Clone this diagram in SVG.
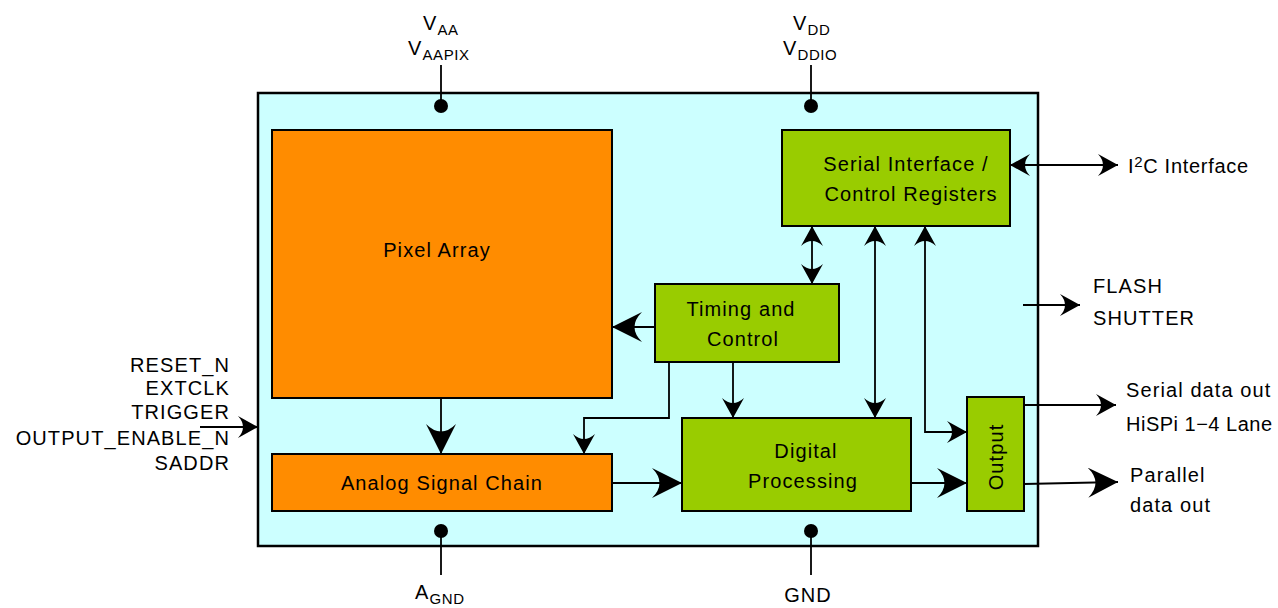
<svg xmlns="http://www.w3.org/2000/svg" width="1278" height="608" viewBox="0 0 1278 608">
<style>
text{font-family:"Liberation Sans",Arial,sans-serif;font-size:20px;fill:#000;letter-spacing:1.1px}
.c{text-anchor:middle}
.r{text-anchor:end}
.sub{font-size:15px;letter-spacing:0.6px}
.box{stroke:#000;stroke-width:2}
.org{fill:#FF8C00}
.grn{fill:#99CC00}
.ln{fill:none;stroke:#000;stroke-width:1.8}
.ml{marker-end:url(#M)}
.ms{marker-start:url(#M)}
.Ll{marker-end:url(#L)}
</style>
<defs>
<marker id="M" viewBox="0 0 20 22" refX="20" refY="11" markerWidth="20" markerHeight="22" markerUnits="userSpaceOnUse" orient="auto-start-reverse">
<path d="M20 11 L0 0 Q10 11 0 22 Z" fill="#000"/>
</marker>
<marker id="L" viewBox="0 0 30 30" refX="30" refY="15" markerWidth="30" markerHeight="30" markerUnits="userSpaceOnUse" orient="auto-start-reverse">
<path d="M30 15 L0 0 Q15 15 0 30 Z" fill="#000"/>
</marker>
</defs>

<g id="chip">
<rect x="258" y="93" width="780" height="453" fill="#CCFFFF" stroke="#000" stroke-width="2.5"/>
</g>

<g id="connectors">
<line class="ln" x1="441" y1="65" x2="441" y2="106"/>
<line class="ln" x1="811" y1="65" x2="811" y2="106"/>
<line class="ln" x1="441" y1="531" x2="441" y2="575"/>
<line class="ln" x1="811" y1="531" x2="811" y2="575"/>
<circle cx="441" cy="106" r="7"/>
<circle cx="811" cy="106" r="7"/>
<circle cx="441" cy="531" r="7"/>
<circle cx="811" cy="531" r="7"/>
<line class="ln ml ms" x1="1010" y1="165" x2="1118" y2="165"/>
<line class="ln ml ms" x1="812" y1="226" x2="812" y2="284"/>
<line class="ln ml ms" x1="875" y1="226" x2="875" y2="418"/>
<path class="ln ml ms" d="M967 432 H925 V226"/>
<line class="ln Ll" x1="655" y1="327" x2="612" y2="327"/>
<line class="ln ml" x1="733" y1="362" x2="733" y2="418"/>
<path class="ln ml" d="M669 362 V418 H584 V454"/>
<line class="ln Ll" x1="441" y1="398" x2="441" y2="454"/>
<line class="ln Ll" x1="612" y1="483" x2="682" y2="483"/>
<line class="ln Ll" x1="911" y1="483" x2="967" y2="483"/>
<line class="ln Ll" x1="1024" y1="484" x2="1118" y2="482"/>
<line class="ln ml" x1="1024" y1="405" x2="1116" y2="405"/>
<line class="ln ml" x1="1023" y1="305" x2="1080" y2="305"/>
<line class="ln ml" x1="200" y1="427" x2="258" y2="427"/>
</g>

<g id="pixel-array">
<rect class="box org" x="272" y="130" width="340" height="268"/>
<text class="c" x="437" y="257">Pixel Array</text>
</g>
<g id="analog-signal-chain">
<rect class="box org" x="272" y="454" width="340" height="57"/>
<text class="c" x="442" y="490">Analog Signal Chain</text>
</g>
<g id="serial-interface">
<rect class="box grn" x="782" y="130" width="228" height="96"/>
<text class="c" x="906" y="171">Serial Interface /</text>
<text class="c" x="911" y="201">Control Registers</text>
</g>
<g id="timing-control">
<rect class="box grn" x="655" y="284" width="184" height="78"/>
<text class="c" x="741" y="316">Timing and</text>
<text class="c" x="743" y="346">Control</text>
</g>
<g id="digital-processing">
<rect class="box grn" x="682" y="418" width="229" height="93"/>
<text class="c" x="806" y="458">Digital</text>
<text class="c" x="803" y="488">Processing</text>
</g>
<g id="output">
<rect class="box grn" x="967" y="397" width="57" height="114"/>
<text class="c" transform="translate(1003 457) rotate(-90)">Output</text>
</g>

<g id="labels">
<text x="423" y="30">V<tspan class="sub" dy="5">AA</tspan></text>
<text x="408" y="55">V<tspan class="sub" dy="5">AAPIX</tspan></text>
<text x="793" y="30">V<tspan class="sub" dy="5">DD</tspan></text>
<text x="783" y="55">V<tspan class="sub" dy="5">DDIO</tspan></text>
<text x="415" y="599">A<tspan class="sub" dy="5">GND</tspan></text>
<text class="c" x="808" y="602">GND</text>
<text x="1128" y="173" style="letter-spacing:0.7px">I<tspan class="sub" dy="-6">2</tspan><tspan dy="6">C Interface</tspan></text>
<text x="1093" y="293">FLASH</text>
<text x="1093" y="325">SHUTTER</text>
<text x="1126" y="397">Serial data out</text>
<text x="1126" y="431" style="letter-spacing:0.5px">HiSPi 1−4 Lane</text>
<text x="1130" y="482">Parallel</text>
<text x="1130" y="512">data out</text>
<text class="r" x="230" y="372">RESET_N</text>
<text class="r" x="230" y="395">EXTCLK</text>
<text class="r" x="230" y="419">TRIGGER</text>
<text class="r" x="230" y="445">OUTPUT_ENABLE_N</text>
<text class="r" x="230" y="470">SADDR</text>
</g>
</svg>
